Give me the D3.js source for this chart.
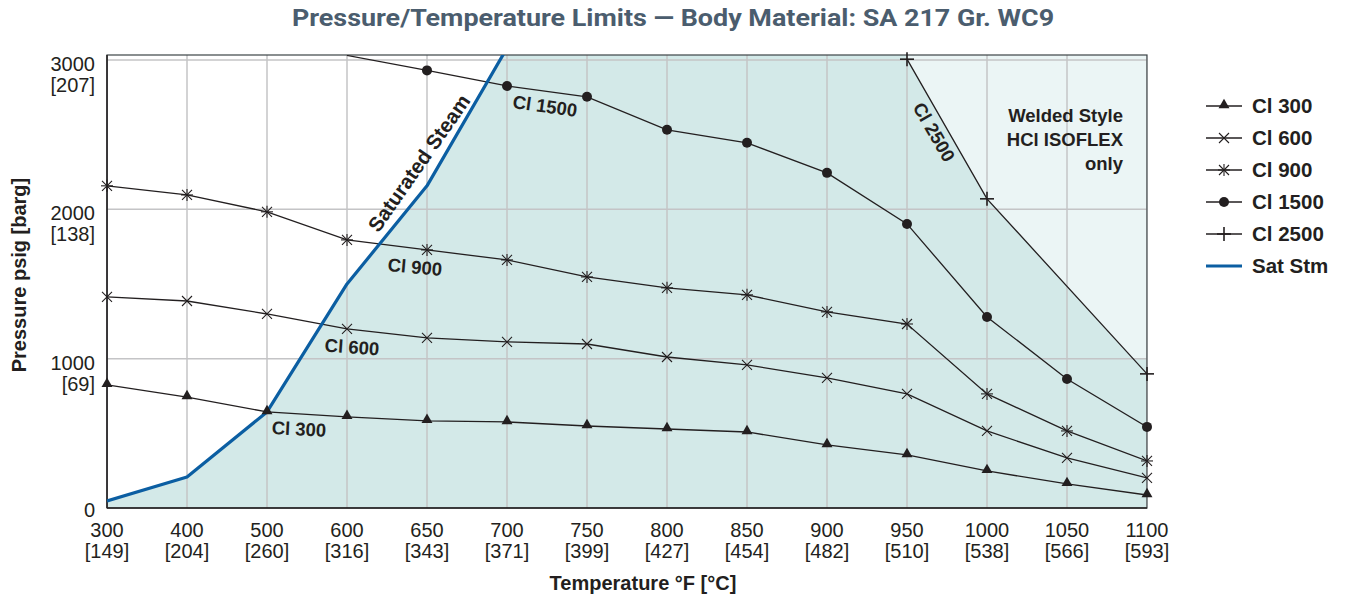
<!DOCTYPE html>
<html>
<head>
<meta charset="utf-8">
<script src="https://cdn.jsdelivr.net/npm/d3@7"></script>
<style>
  body { margin: 0; background: #fff; }
  svg text { font-family: 'Liberation Sans', Arial, sans-serif; fill: #231f20; }
</style>
</head>
<body>
<svg id="chart" width="1347" height="599"></svg>
<script>
// temperature categories, °F and °C
const tempF = ['300', '400', '500', '600', '650', '700', '750', '800', '850', '900', '950', '1000', '1050', '1100'];
const tempC = ['149', '204', '260', '316', '343', '371', '399', '427', '454', '482', '510', '538', '566', '593'];

// pressure ticks psig / barg
const yTicks = [0, 1000, 2000, 3000];
const yTicksBar = ['', '69', '138', '207'];

// class ratings, psig (null = not plotted)
const cl300 = [824, 743, 643, 610, 583, 576, 549, 529, 509, 422, 355, 248, 161, 87];
const cl600 = [1413, 1386, 1299, 1199, 1139, 1112, 1098, 1011, 958, 871, 764, 516, 335, 201];
const cl900 = [2157, 2096, 1983, 1795, 1728, 1661, 1547, 1474, 1427, 1313, 1232, 764, 516, 315];
const cl1500 = [null, null, null, 3030, 2930, 2826, 2753, 2532, 2445, 2244, 1902, 1279, 864, 543];
const cl2500 = [null, null, null, null, null, null, null, null, null, null, 3005, 2070, null, 898];
const satStm = [47, 208, 643, 1500, 2157, 3080, null, null, null, null, null, null, null, null];

const margin = { left: 107, right: 200, top: 55, bottom: 91 };
const width = 1347, height = 599;
const svg = d3.select('#chart');

const x = d3.scalePoint().domain(tempF).range([margin.left, width - margin.right]);
const yMax = 3033;
const y = d3.scaleLinear().domain([0, yMax]).range([height - margin.bottom, margin.top]);

const pts = function (vals) {
  return tempF.map((t, i) => ({ t: t, v: vals[i] })).filter((d) => d.v != null);
};

svg.append('clipPath').attr('id', 'plot')
  .append('rect').attr('x', x('300')).attr('y', y(yMax)).attr('width', x('1100') - x('300')).attr('height', y(0) - y(yMax));
svg.append('clipPath').attr('id', 'welded')
  .append('rect').attr('x', x('300')).attr('y', y(yMax)).attr('width', x('1100') - x('300')).attr('height', y(1000) - y(yMax));

const plot = svg.append('g').attr('clip-path', 'url(#plot)');

// area right of saturated steam
const satFill = tempF.map((t, i) => ({ t: t, v: satStm[i] == null ? yMax : satStm[i] }));
plot.append('path')
  .attr('d', d3.area().x((d) => x(d.t)).y0(y(0)).y1((d) => y(d.v))(satFill))
  .attr('fill', '#d3e9e8');

// welded style only region
plot.append('g').attr('clip-path', 'url(#welded)').append('path')
  .attr('d', d3.area().x((d) => x(d.t)).y0((d) => y(d.v)).y1(y(yMax))(pts(cl2500)))
  .attr('fill', '#ebf5f5');

// grid
plot.selectAll('.vgrid').data(tempF).join('line')
  .attr('x1', (d) => x(d)).attr('x2', (d) => x(d))
  .attr('y1', y(0)).attr('y2', y(yMax))
  .attr('stroke', '#c4c4c6').attr('stroke-width', 1.5);
plot.selectAll('.hgrid').data(yTicks.slice(1)).join('line')
  .attr('x1', x('300')).attr('x2', x('1100'))
  .attr('y1', (d) => y(d)).attr('y2', (d) => y(d))
  .attr('stroke', '#c4c4c6').attr('stroke-width', 1.5);

// frame
svg.append('rect')
  .attr('x', x('300')).attr('y', y(yMax)).attr('width', x('1100') - x('300')).attr('height', y(0) - y(yMax))
  .attr('fill', 'none').attr('stroke', '#3c4447').attr('stroke-width', 1.2);
svg.append('line').attr('x1', x('300')).attr('x2', x('300')).attr('y1', y(yMax)).attr('y2', y(0))
  .attr('stroke', '#231f20').attr('stroke-width', 1.5);
svg.append('line').attr('x1', x('300')).attr('x2', x('1100')).attr('y1', y(0)).attr('y2', y(0))
  .attr('stroke', '#231f20').attr('stroke-width', 1.5);

const line = d3.line().x((d) => x(d.t)).y((d) => y(d.v));

const series = [
  { name: 'Cl 300', vals: cl300, mark: 'tri' },
  { name: 'Cl 600', vals: cl600, mark: 'x' },
  { name: 'Cl 900', vals: cl900, mark: 'star' },
  { name: 'Cl 1500', vals: cl1500, mark: 'dot' },
  { name: 'Cl 2500', vals: cl2500, mark: 'plus' }
];

const lines = svg.append('g').attr('clip-path', 'url(#plot)');
series.forEach(function (s) {
  lines.append('path').attr('d', line(pts(s.vals)))
    .attr('fill', 'none').attr('stroke', '#231f20').attr('stroke-width', 1.3);
});

lines.append('path').attr('d', line(pts(satStm)))
  .attr('fill', 'none').attr('stroke', '#0b5ea2').attr('stroke-width', 3.2).attr('stroke-linejoin', 'round');

const drawMark = function (g, type, cx, cy) {
  if (type === 'tri') {
    g.append('path').attr('d', d3.symbol(d3.symbolTriangle, 52)()).attr('transform', 'translate(' + cx + ',' + (cy - 1) + ')').attr('fill', '#231f20');
  } else if (type === 'dot') {
    g.append('circle').attr('cx', cx).attr('cy', cy).attr('r', 5).attr('fill', '#231f20');
  } else {
    let segs = [];
    if (type === 'x' || type === 'star') segs.push([-5, -5, 5, 5], [-5, 5, 5, -5]);
    if (type === 'star') segs.push([0, -6, 0, 6], [-6, 0, 6, 0]);
    if (type === 'plus') segs.push([-7, 0, 7, 0], [0, -7, 0, 7]);
    segs.forEach(function (s) {
      g.append('line').attr('x1', cx + s[0]).attr('y1', cy + s[1]).attr('x2', cx + s[2]).attr('y2', cy + s[3])
        .attr('stroke', '#231f20').attr('stroke-width', type === 'plus' ? 1.6 : 1.1);
    });
  }
};

const marks = svg.append('g');
series.forEach(function (s) {
  pts(s.vals).filter((d) => d.v <= 3020).forEach(function (d) {
    drawMark(marks, s.mark, x(d.t), y(d.v));
  });
});

// y axis labels
const yl = svg.append('g');
yTicks.forEach(function (t, i) {
  const tx = yl.append('text').attr('x', 95).attr('y', y(t) + (t === 0 ? 2 : 4)).attr('text-anchor', 'end').style('font-size', '20px');
  if (yTicksBar[i] === '') {
    tx.attr('dy', '0.35em').text(t);
  } else {
    tx.append('tspan').attr('x', 95).attr('dy', '0.35em').text(t);
    tx.append('tspan').attr('x', 95).attr('dy', 21).text('[' + yTicksBar[i] + ']');
  }
});

// x axis labels
const xl = svg.append('g');
tempF.forEach(function (t, i) {
  const tx = xl.append('text').attr('x', x(t)).attr('y', 537).attr('text-anchor', 'middle').style('font-size', '20px');
  tx.append('tspan').attr('x', x(t)).text(t);
  tx.append('tspan').attr('x', x(t)).attr('dy', 21).text('[' + tempC[i] + ']');
});

// axis titles
svg.append('text').attr('x', 643).attr('y', 590).attr('text-anchor', 'middle')
  .style('font-size', '20px').style('font-weight', 'bold').text('Temperature °F [°C]');
svg.append('text').attr('transform', 'translate(26,275) rotate(-90)').attr('text-anchor', 'middle')
  .style('font-size', '20px').style('font-weight', 'bold').text('Pressure psig [barg]');

// title
svg.append('text').attr('transform', 'translate(673,26) scale(1.17,1)').attr('text-anchor', 'middle')
  .style('font-family', 'Roboto, sans-serif').style('font-size', '23px').style('font-weight', 'bold').style('fill', '#4b5d6e')
  .text('Pressure/Temperature Limits — Body Material: SA 217 Gr. WC9');

// in-plot labels
const labels = [
  { text: 'Cl 300', cx: 299, cy: 429, a: 3 },
  { text: 'Cl 600', cx: 352, cy: 347, a: 4 },
  { text: 'Cl 900', cx: 415, cy: 267, a: 5 },
  { text: 'Cl 1500', cx: 545, cy: 106, a: 8 },
  { text: 'Cl 2500', cx: 934, cy: 132, a: 60 },
  { text: 'Saturated Steam', cx: 419, cy: 163, a: -55 }
];
labels.forEach(function (l) {
  svg.append('text').attr('transform', 'translate(' + l.cx + ',' + l.cy + ') rotate(' + l.a + ')')
    .attr('text-anchor', 'middle').attr('dy', '0.35em')
    .style('font-size', l.text === 'Saturated Steam' ? '20.5px' : '18.5px').style('font-weight', 'bold').text(l.text);
});

const welded = ['Welded Style', 'HCl ISOFLEX', 'only'];
welded.forEach(function (w, i) {
  svg.append('text').attr('x', 1123).attr('y', 116 + i * 24).attr('dy', '0.35em').attr('text-anchor', 'end')
    .style('font-size', '18.5px').style('font-weight', 'bold').text(w);
});

// legend
const legend = svg.append('g');
const legendItems = series.map((s) => ({ name: s.name, mark: s.mark })).concat([{ name: 'Sat Stm', mark: 'sat' }]);
legendItems.forEach(function (it, i) {
  const ly = 106 + i * 32;
  if (it.mark === 'sat') {
    legend.append('line').attr('x1', 1206).attr('x2', 1242).attr('y1', ly).attr('y2', ly)
      .attr('stroke', '#0b5ea2').attr('stroke-width', 3);
  } else {
    legend.append('line').attr('x1', 1206).attr('x2', 1242).attr('y1', ly).attr('y2', ly)
      .attr('stroke', '#231f20').attr('stroke-width', 1.3);
    drawMark(legend, it.mark, 1224, ly);
  }
  legend.append('text').attr('x', 1252).attr('y', ly).attr('dy', '0.35em')
    .style('font-size', '20.5px').style('font-weight', 'bold').text(it.name);
});
</script>
</body>
</html>
